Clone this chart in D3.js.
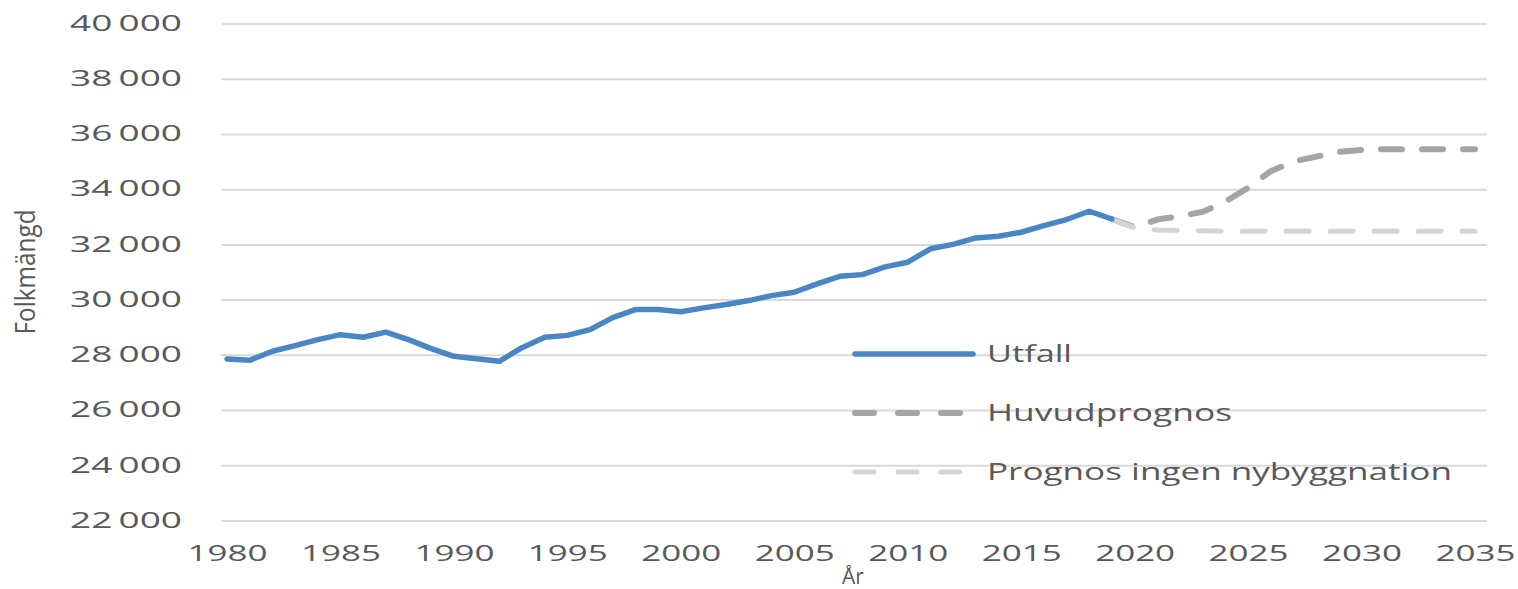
<!DOCTYPE html>
<html>
<head>
<meta charset="utf-8">
<script src="https://cdn.jsdelivr.net/npm/d3@7"></script>
<style>
  body { margin: 0; background: #fff; }
  text { font-family: "Open Sans", "DejaVu Sans", sans-serif; fill: #595959; }
</style>
</head>
<body>
<script>
// folkmängd, utfall och prognoser
var utfallYears = d3.range(1980, 2020);
var utfall = [27850, 27800, 28130, 28335, 28550, 28730, 28635, 28820, 28550, 28225,
              27945, 27860, 27765, 28260, 28635, 28705, 28915, 29350, 29640, 29640,
              29560, 29700, 29820, 29965, 30145, 30265, 30570, 30845, 30905, 31185,
              31355, 31840, 32000, 32235, 32295, 32440, 32680, 32900, 33200, 32920];

var prognosYears = d3.range(2019, 2036);
var huvudprognos = [32920, 32620, 32900, 33020, 33180, 33550, 34050, 34650, 35000,
                    35180, 35350, 35420, 35450, 35450, 35450, 35450, 35450];
var ingenNybyggnation = [32920, 32600, 32520, 32500, 32490, 32480, 32480, 32480, 32480,
                         32480, 32480, 32480, 32480, 32480, 32480, 32480, 32480];

var seriesNames = ["Utfall", "Huvudprognos", "Prognos ingen nybyggnation"];
var yTicks = [22000, 24000, 26000, 28000, 30000, 32000, 34000, 36000, 38000, 40000];
var xTicks = [1980, 1985, 1990, 1995, 2000, 2005, 2010, 2015, 2020, 2025, 2030, 2035];

var width = 1518, height = 589;
var plotLeft = 221, plotRight = 1487;

var svg = d3.select("body").append("svg")
    .attr("width", width)
    .attr("height", height);

var x = d3.scaleLinear().domain([1980, 2035]).range([227, 1475]);
var y = d3.scaleLinear().domain([22000, 40000]).range([520.5, 23.5]);

var sv = d3.formatLocale({ decimal: ",", thousands: "\u2009", grouping: [3], currency: ["", " kr"] });

////////////////////////////////////////
// y axis + gridlines

var yAxis = svg.append("g")
    .attr("transform", "translate(" + plotLeft + ",0)")
    .call(d3.axisLeft(y)
        .tickValues(yTicks)
        .tickSize(-(plotRight - plotLeft))
        .tickPadding(39)
        .tickFormat(sv.format(",d")));

yAxis.select(".domain").remove();
yAxis.selectAll("line")
    .attr("stroke", "#d9d9d9")
    .attr("stroke-width", 2);
yAxis.selectAll("text")
    .attr("font-size", 21)
    .attr("fill", "#606060")
    .attr("textLength", 112)
    .attr("lengthAdjust", "spacingAndGlyphs");

////////////////////////////////////////
// x axis

var xAxis = svg.append("g")
    .attr("transform", "translate(0," + y(22000) + ")")
    .call(d3.axisBottom(x)
        .tickValues(xTicks)
        .tickSize(0)
        .tickFormat(d3.format("d")));

xAxis.select(".domain").remove();
xAxis.selectAll("text")
    .attr("y", 40)
    .attr("dy", 0)
    .attr("font-size", 22)
    .attr("fill", "#595959")
    .attr("textLength", 80)
    .attr("lengthAdjust", "spacingAndGlyphs");

////////////////////////////////////////
// axis titles

svg.append("text")
    .attr("x", 853)
    .attr("y", 584)
    .attr("text-anchor", "middle")
    .attr("font-size", 21)
    .text("År");

svg.append("text")
    .attr("transform", "translate(35,272) rotate(-90)")
    .attr("text-anchor", "middle")
    .attr("font-size", 27)
    .attr("fill", "#4d4d4d")
    .attr("textLength", 125)
    .attr("lengthAdjust", "spacingAndGlyphs")
    .text("Folkmängd");

////////////////////////////////////////
// lines

var line = d3.line()
    .x(function(d) { return x(d[0]); })
    .y(function(d) { return y(d[1]); });

svg.append("path")
    .datum(d3.zip(prognosYears, huvudprognos))
    .attr("fill", "none")
    .attr("stroke", "#a5a5a5")
    .attr("stroke-width", 6)
    .attr("stroke-linecap", "round")
    .attr("stroke-dasharray", "21 20")
    .attr("d", line);

svg.append("path")
    .datum(d3.zip(prognosYears, ingenNybyggnation))
    .attr("fill", "none")
    .attr("stroke", "#d4d4d4")
    .attr("stroke-width", 5)
    .attr("stroke-linecap", "round")
    .attr("stroke-dasharray", "23 21")
    .attr("d", line);

svg.append("path")
    .datum(d3.zip(utfallYears, utfall))
    .attr("fill", "none")
    .attr("stroke", "#4a86c4")
    .attr("stroke-width", 5.5)
    .attr("stroke-linejoin", "round")
    .attr("stroke-linecap", "round")
    .attr("d", line);

////////////////////////////////////////
// legend (inside plot, no box)

var legendStyles = [
    { color: "#4a86c4", w: 5.5, dash: null, len: 85 },
    { color: "#a5a5a5", w: 6, dash: "19 24", len: 245 },
    { color: "#d4d4d4", w: 5, dash: "19 24", len: 465 }
];

var legend = svg.append("g");
seriesNames.forEach(function(name, i) {
    var ly = 354 + i * 59;
    legend.append("line")
        .attr("x1", 855).attr("x2", 973)
        .attr("y1", ly).attr("y2", ly)
        .attr("stroke", legendStyles[i].color)
        .attr("stroke-width", legendStyles[i].w)
        .attr("stroke-linecap", "round")
        .attr("stroke-dasharray", legendStyles[i].dash);
    legend.append("text")
        .attr("x", 987)
        .attr("y", ly + 8)
        .attr("font-size", 23)
        .attr("textLength", legendStyles[i].len)
        .attr("lengthAdjust", "spacingAndGlyphs")
        .text(name);
});
</script>
</body>
</html>
